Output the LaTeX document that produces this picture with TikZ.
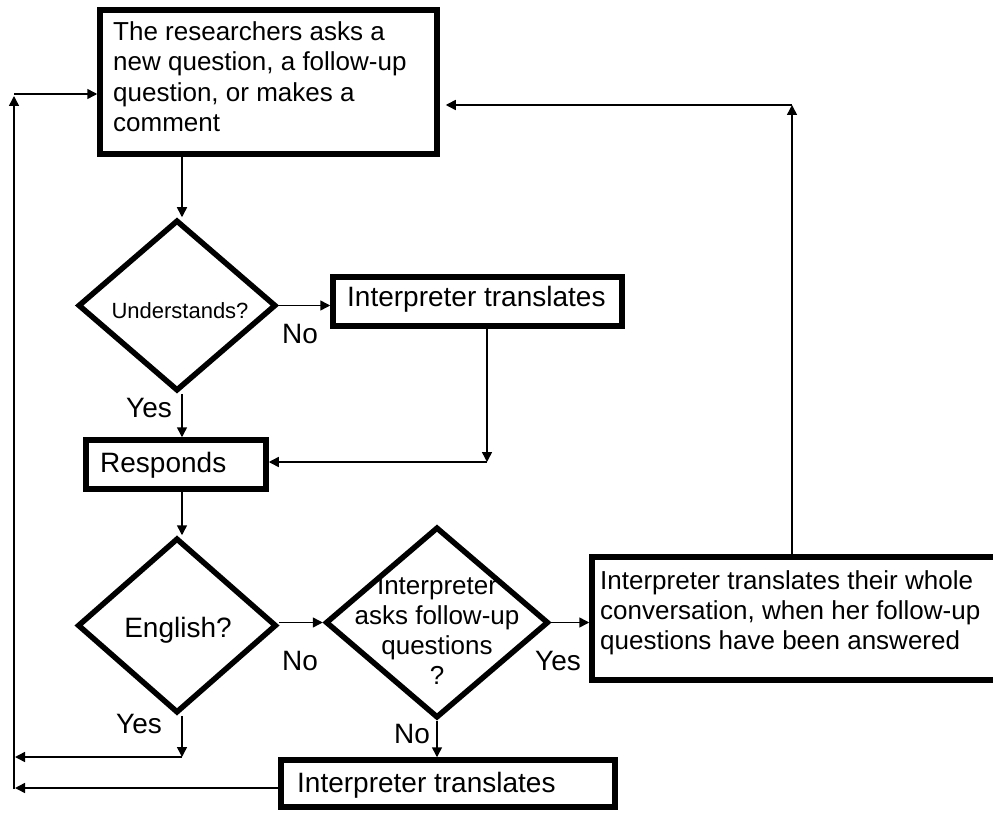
\documentclass[tikz,border=0pt]{standalone}
\usepackage{fontspec}
\setmainfont{Liberation Sans}
\usetikzlibrary{arrows.meta,shapes.geometric}

\tikzset{
  box/.style={draw, line width=5.5pt, rectangle, inner sep=0pt},
  dia/.style={draw, line width=5.5pt, diamond, inner sep=0pt},
  conn/.style={line width=1.5pt},
  arr/.style={conn, -{Triangle[length=10pt,width=10pt]}},
  txt/.style={inner sep=0pt, font=\fontsize{26}{30.3}\selectfont},
  big/.style={inner sep=0pt, font=\fontsize{28}{32}\selectfont},
  small/.style={inner sep=0pt, font=\fontsize{22}{26}\selectfont},
}

\begin{document}
\begin{tikzpicture}[x=1pt,y=-1pt]
  \clip (0,0) rectangle (993,813);

  % boxes
  \node[box, minimum width=337pt, minimum height=144pt] (start) at (268.5,82) {};
  \node[box, minimum width=289pt, minimum height=49pt] (interp1) at (477.5,301.5) {};
  \node[box, minimum width=180pt, minimum height=49pt] (resp) at (176,464.5) {};
  \node[box, minimum width=405pt, minimum height=123pt] (whole) at (794.5,618.5) {};
  \node[box, minimum width=334pt, minimum height=47pt] (interp2) at (448,783.5) {};

  % decisions
  \node[dia, minimum width=198pt, minimum height=171pt] (und) at (177,305.5) {};
  \node[dia, minimum width=199pt, minimum height=175pt] (eng) at (177,625.5) {};
  \node[dia, minimum width=223pt, minimum height=191pt] (ask) at (437,622.5) {};

  % texts
  \node[txt, anchor=north west, align=left] (tstart) at (113,21.4)
    {The researchers asks a\\new question, a follow-up\\question, or makes a\\comment};
  \node[big, anchor=base west] (tinterp1) at (347,306) {Interpreter translates};
  \node[small, anchor=base] (tund) at (180,318) {Understands?};
  \node[big, anchor=base west] (tresp) at (100,472) {Responds};
  \node[big, anchor=base] (teng) at (178,637) {English?};
  \node[txt, anchor=north, align=center] (task) at (437,576)
    {Interpreter\\asks follow-up\\questions\\?};
  \node[txt, anchor=north west, align=left] (twhole) at (600,570)
    {Interpreter translates their whole\\conversation, when her follow-up\\questions have been answered};
  \node[big, anchor=base west] (tinterp2) at (297,792) {Interpreter translates};

  % branch labels
  \node[big, anchor=base] (lno1) at (300,343) {No};
  \node[big, anchor=base] (lyes1) at (149,417) {Yes};
  \node[big, anchor=base] (lno2) at (300,670) {No};
  \node[big, anchor=base] (lyes2) at (558,670) {Yes};
  \node[big, anchor=base] (lyes3) at (139,733) {Yes};
  \node[big, anchor=base] (lno3) at (412,743) {No};

  % routing points
  \coordinate (spine) at (182,0);
  \coordinate (drop) at (487,462);
  \coordinate (engout) at (182,757);
  \coordinate (retA) at (15,757);
  \coordinate (retB) at (15,788);
  \coordinate (leftlow) at (14,789);
  \coordinate (lefttop) at (14,96);
  \coordinate (leftin) at (14,94);
  \coordinate (rightup) at (792,105);

  % main flow
  \draw[arr] (start.south -| spine) -- (und.north -| spine);
  \draw[arr] (und.east) -- (interp1.west |- und.east);
  \draw[arr] (interp1.south -| drop) -- (drop);
  \draw[arr] (drop) -- (resp.east |- drop);
  \draw[arr] (und.south -| spine) -- (resp.north -| spine);
  \draw[arr] (resp.south -| spine) -- (eng.north -| spine);
  \draw[arr] (eng.east |- ask.west) -- (ask.west);
  \draw[arr] (ask.east) -- (whole.west |- ask.east);
  \draw[arr] (ask.south) -- (interp2.north -| ask.south);

  % return paths
  \draw[arr] (eng.south -| spine) -- (engout);
  \draw[arr] (engout) -- (retA);
  \draw[arr] (interp2.west |- retB) -- (retB);
  \draw[arr] (leftlow) -- (lefttop);
  \draw[arr] (leftin) -- (start.west |- leftin);
  \draw[arr] (whole.north -| rightup) -- (rightup);
  \draw[arr, shorten >=6pt] (rightup) -- (start.east |- rightup);
\end{tikzpicture}
\end{document}
